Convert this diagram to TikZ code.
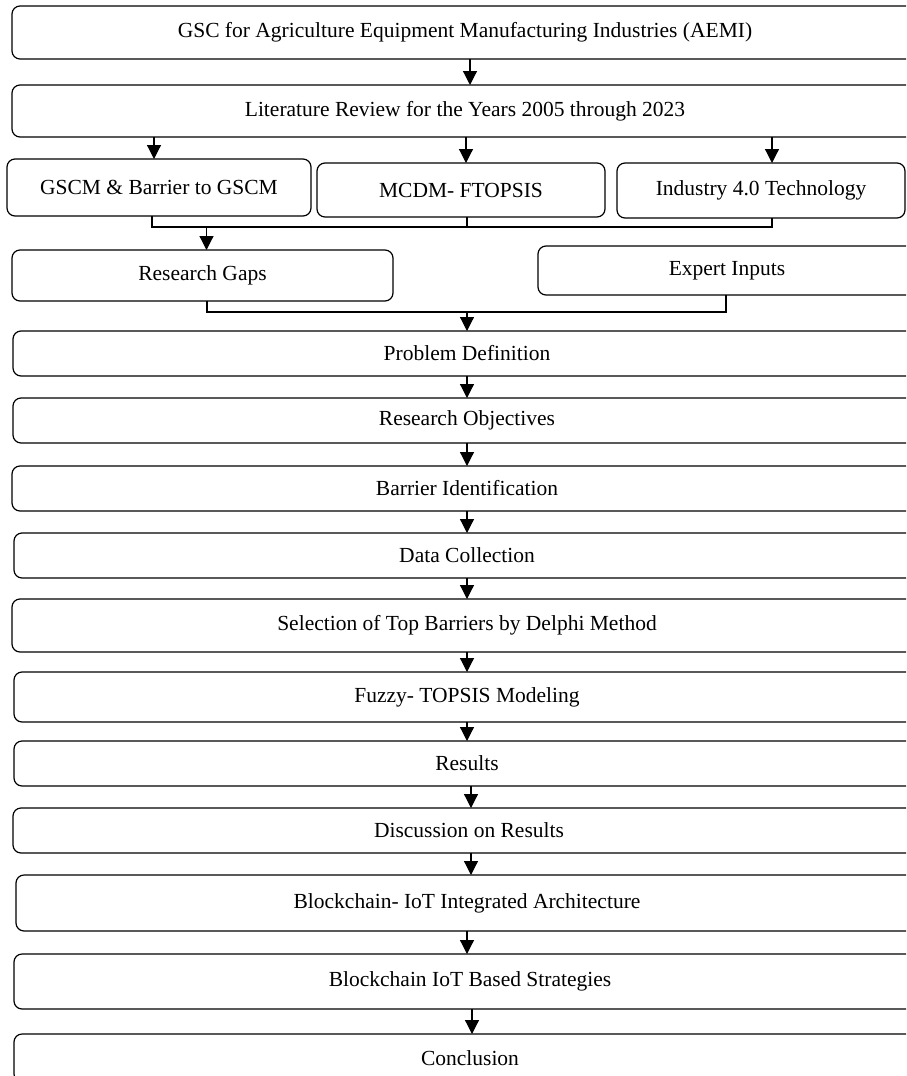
\documentclass[tikz,border=0pt]{standalone}
\usepackage{fontspec}
\setmainfont{Liberation Serif}
\usetikzlibrary{arrows.meta}
\tikzset{
  box/.style={draw=black, line width=1.2pt, rounded corners=8pt, inner sep=0pt, outer sep=0pt,
    font=\fontsize{21.5}{24}\selectfont, align=center},
  arr/.style={draw=black, line width=1.2pt, -{Triangle[length=14pt,width=14pt]}},
  link/.style={draw=black, line width=1.2pt}
}
\begin{document}
\begin{tikzpicture}[x=1pt,y=-1pt]
\useasboundingbox (0,0) rectangle (906,1076);
\clip (0,0) rectangle (906,1076);
\node[box, minimum width=906pt, minimum height=53pt] (gsc) at (465,32.5) {GSC for Agriculture Equipment Manufacturing Industries (AEMI)};
\node[box, minimum width=906pt, minimum height=52pt] (lit) at (465,111) {Literature Review for the Years 2005 through 2023};
\node[box, minimum width=304pt, minimum height=57pt] (gscm) at (159,187.5) {GSCM \& Barrier to GSCM};
\node[box, minimum width=288pt, minimum height=54pt] (mcdm) at (461,190) {MCDM- FTOPSIS};
\node[box, minimum width=288pt, minimum height=55pt] (ind) at (761,190.5) {Industry 4.0 Technology};
\node[box, minimum width=381pt, minimum height=51pt] (rg) at (202.5,275.5) {Research Gaps};
\node[box, minimum width=378pt, minimum height=49pt] (exp) at (727,270.5) {Expert Inputs};
\node[box, minimum width=908pt, minimum height=45pt] (pd) at (467,353.5) {Problem Definition};
\node[box, minimum width=908pt, minimum height=45pt] (ro) at (467,420.5) {Research Objectives};
\node[box, minimum width=910pt, minimum height=45pt] (bi) at (467,488.5) {Barrier Identification};
\node[box, minimum width=906pt, minimum height=45pt] (dc) at (467,555.5) {Data Collection};
\node[box, minimum width=910pt, minimum height=53pt] (sel) at (467,625.5) {Selection of Top Barriers by Delphi Method};
\node[box, minimum width=906pt, minimum height=50pt] (fz) at (467,697) {Fuzzy- TOPSIS Modeling};
\node[box, minimum width=906pt, minimum height=45pt] (res) at (467,763.5) {Results};
\node[box, minimum width=912pt, minimum height=45pt] (dis) at (469,830.5) {Discussion on Results};
\node[box, minimum width=902pt, minimum height=56pt] (bio) at (467,903) {Blockchain- IoT Integrated Architecture};
\node[box, minimum width=912pt, minimum height=55pt] (bst) at (470,981.5) {Blockchain IoT Based Strategies};
\node[box, minimum width=912pt, minimum height=48pt] (con) at (470,1058) {Conclusion};

\draw[arr] ([xshift=5pt]gsc.south) -- ([xshift=5pt]lit.north);
\draw[arr] ([xshift=-5pt]gscm.north |- lit.south) -- ([xshift=-5pt]gscm.north);
\draw[arr] ([xshift=5pt]mcdm.north |- lit.south) -- ([xshift=5pt]mcdm.north);
\draw[arr] ([xshift=11pt]ind.north |- lit.south) -- ([xshift=11pt]ind.north);

\coordinate (j1) at (467,227);
\draw[link] ([xshift=-7pt]gscm.south) |- (j1) -| ([xshift=11pt]ind.south);
\draw[link] ([xshift=6pt]mcdm.south) -- ([xshift=6pt]mcdm.south |- j1);
\draw[arr] ([xshift=4pt]rg.north |- j1) -- ([xshift=4pt]rg.north);

\coordinate (j2) at (467,312);
\draw[link] ([xshift=4.5pt]rg.south) |- (j2) -| ([xshift=-1pt]exp.south);
\draw[arr] (j2) -- (pd.north);

\draw[arr] (pd.south) -- (ro.north);
\draw[arr] (ro.south) -- (bi.north);
\draw[arr] (bi.south) -- (dc.north);
\draw[arr] (dc.south) -- (sel.north);
\draw[arr] (sel.south) -- (fz.north);
\draw[arr] (fz.south) -- (res.north);
\draw[arr] ([xshift=2pt]dis.south |- res.south) -- ([xshift=2pt]dis.north);
\draw[arr] ([xshift=2pt]dis.south) -- ([xshift=2pt]dis.south |- bio.north);
\draw[arr] (bio.south) -- (bio.south |- bst.north);
\draw[arr] ([xshift=2pt]bst.south) -- ([xshift=2pt]con.north);
\end{tikzpicture}
\end{document}
